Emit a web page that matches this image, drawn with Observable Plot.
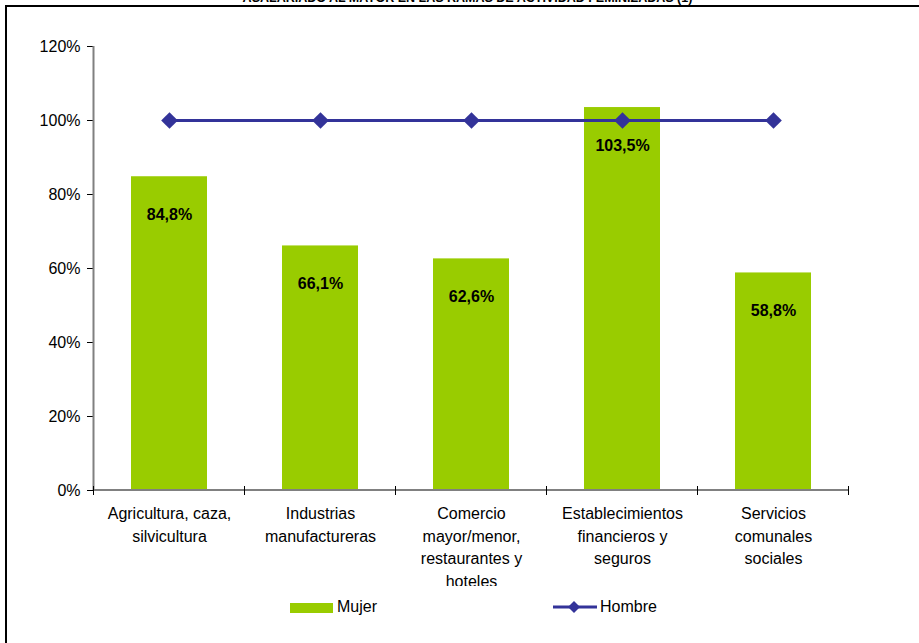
<!DOCTYPE html>
<html><head><meta charset="utf-8">
<script src="https://cdn.jsdelivr.net/npm/d3@7"></script>
<script src="https://cdn.jsdelivr.net/npm/@observablehq/plot@0.6"></script>
<style>
html,body{margin:0;padding:0;background:#fff;}
#wrap{position:relative;width:919px;height:643px;overflow:hidden;font-family:"Liberation Sans",Arial,sans-serif;background:#fff;}
#title{position:absolute;left:0;width:935px;top:-9px;text-align:center;font-weight:bold;font-size:12.5px;color:#000;white-space:nowrap;}
#frameTop{position:absolute;left:5px;top:5px;width:914px;height:2px;background:#000;}
#frameLeft{position:absolute;left:5px;top:5px;width:2px;height:638px;background:#000;}
#chart{position:absolute;left:0;top:0;}
.leg{position:absolute;font-size:16px;color:#000;line-height:1;}
</style></head>
<body>
<div id="wrap">
  <div id="chart"></div>
  <div id="title">ASALARIADO AL MAYOR EN LAS RAMAS DE ACTIVIDAD FEMINIZADAS (1)</div>
  <div id="frameTop"></div>
  <div id="frameLeft"></div>
  <div id="legend"></div>
</div>
<script>
const categories = [
  "Agricultura, caza,\nsilvicultura",
  "Industrias\nmanufactureras",
  "Comercio\nmayor/menor,\nrestaurantes y\nhoteles",
  "Establecimientos\nfinancieros y\nseguros",
  "Servicios\ncomunales\nsociales"
];
const mujer = [84.8, 66.1, 62.6, 103.5, 58.8];
const hombre = [100, 100, 100, 100, 100];
const yTicks = [0, 20, 40, 60, 80, 100, 120];
const seriesNames = ["Mujer", "Hombre"];
const colors = {Mujer: "#99CC00", Hombre: "#333399"};

const barData = categories.map((c, i) => ({cat: c, v: mujer[i]}));
const lineData = categories.map((c, i) => ({cat: c, v: hombre[i]}));

const W = 919, H = 586, mL = 93, mR = 71, mT = 46, mB = 96;

const chart = Plot.plot({
  width: W, height: H,
  marginLeft: mL, marginRight: mR, marginTop: mT, marginBottom: mB,
  style: {fontFamily: "'Liberation Sans', Arial, sans-serif", fontSize: "16px", color: "#000", background: "#fff", overflow: "hidden"},
  x: {domain: categories, paddingInner: 0.5, paddingOuter: 0.25, label: null},
  y: {domain: [0, 120], label: null},
  marks: [
    Plot.barY(barData, {x: "cat", y: "v", fill: colors.Mujer}),
    Plot.axisY({ticks: yTicks, tickFormat: d => d + "%", tickSize: 6, tickPadding: 7, stroke: "#000", fontSize: 16, fill: "#000"}),
    Plot.axisX({tickSize: 0, tickPadding: 13, fontSize: 16, fill: "#000", lineHeight: 1.4}),
    Plot.text(barData, {x: "cat", y: "v", text: d => d.v.toFixed(1).replace(".", ",") + "%", dy: 38, fontWeight: "bold", fontSize: 16, fill: "#000"}),
    Plot.line(lineData, {x: "cat", y: "v", stroke: colors.Hombre, strokeWidth: 3}),
    Plot.dot(lineData, {x: "cat", y: "v", symbol: "diamond2", r: 7.5, fill: colors.Hombre, stroke: "none"})
  ]
});

// axis lines and category boundary ticks drawn from the plot's own scales
const xs = chart.scale("x"), ys = chart.scale("y");
const svg = d3.select(chart);
const y0 = ys.apply(0), yTop = ys.apply(120);
const step = xs.step;
const startX = xs.apply(categories[0]) + xs.bandwidth / 2 - step / 2;
const g = svg.append("g");
g.append("line").attr("x1", startX).attr("x2", startX).attr("y1", yTop).attr("y2", y0).attr("stroke", "#808080").attr("stroke-width", 2);
g.append("line").attr("x1", startX).attr("x2", startX + step * categories.length).attr("y1", y0).attr("y2", y0).attr("stroke", "#808080").attr("stroke-width", 2);
for (let i = 0; i <= categories.length; i++) {
  const x = startX + step * i;
  g.append("line").attr("x1", x).attr("x2", x).attr("y1", y0 - 4).attr("y2", y0 + 5).attr("stroke", "#000").attr("stroke-width", 1);
}
svg.node().insertBefore(g.node(), svg.node().querySelector("g[aria-label='line']"));
document.getElementById("chart").appendChild(chart);

// legend
const legend = document.getElementById("legend");
legend.innerHTML = `
  <div style="position:absolute;left:290px;top:603px;width:43px;height:10px;background:${colors.Mujer}"></div>
  <div class="leg" style="left:337px;top:599px;">${seriesNames[0]}</div>
  <svg style="position:absolute;left:552px;top:599px" width="46" height="16">
    <line x1="1" x2="45" y1="8" y2="8" stroke="${colors.Hombre}" stroke-width="3"/>
    <path d="M22 2 L28 8 L22 14 L16 8 Z" fill="${colors.Hombre}"/>
  </svg>
  <div class="leg" style="left:600px;top:599px;">${seriesNames[1]}</div>`;
</script>
</body></html>
